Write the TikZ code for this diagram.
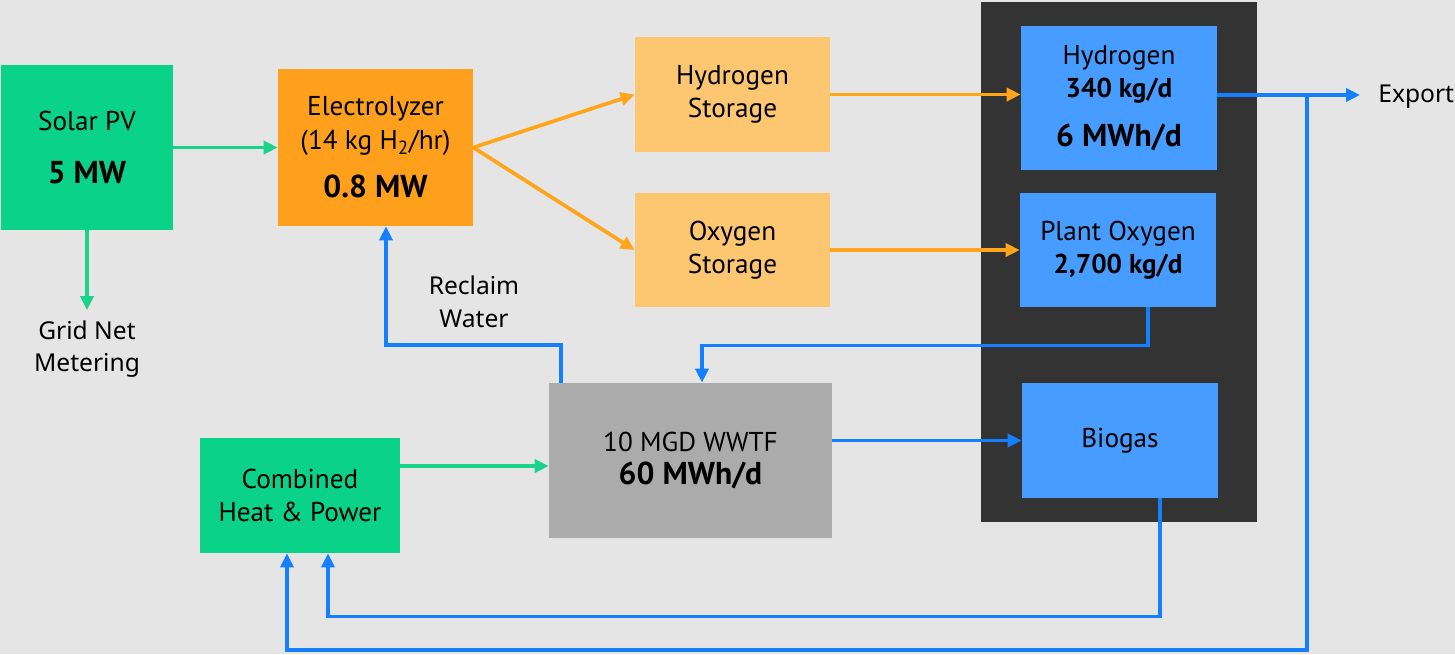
\documentclass[tikz,border=0pt]{standalone}
\usepackage{fontspec}
\setmainfont{PT Sans}
\newfontfamily\labelfont{Noto Sans}
\usetikzlibrary{arrows.meta}
\definecolor{bgcol}{HTML}{E5E5E5}
\definecolor{panelcol}{HTML}{333333}
\definecolor{greenbox}{HTML}{0AD389}
\definecolor{greenline}{HTML}{19D38A}
\definecolor{orangebox}{HTML}{FFA01C}
\definecolor{orangeline}{HTML}{FFA51A}
\definecolor{storebox}{HTML}{FDC670}
\definecolor{bluebox}{HTML}{479DFF}
\definecolor{blueline}{HTML}{1580FF}
\definecolor{graybox}{HTML}{ABABAB}

\begin{document}
\begin{tikzpicture}[x=0.02cm,y=-0.02cm,
  box/.style={minimum width=3.9cm,minimum height=2.3cm,align=center,
    inner sep=0pt,font=\fontsize{15.5}{19}\selectfont},
  flow/.style={line width=2.1pt,-{Triangle[length=0.28cm,width=0.26cm]}},
  outlabel/.style={align=center,inner sep=0pt,font=\labelfont\fontsize{14}{18.5}\selectfont}]
\def\gap{8.5pt}
\def\bigtxt{\fontsize{18}{21}\selectfont\bfseries}

% background and output panel
\fill[bgcol] (0,0) rectangle (1455,654);
\useasboundingbox (0,0) rectangle (1455,654);
\fill[panelcol] (981,2) rectangle (1257,522);

% --- sources ---
\node[box,fill=greenbox,minimum width=3.44cm,minimum height=3.3cm] (solar) at (87,147.5)
    {Solar PV\\[11pt]{\bigtxt 5 MW}};
\node[box,fill=orangebox,minimum height=3.14cm] (elec) at (375.5,147.5)
    {Electrolyzer\\(14 kg H\textsubscript{2}/hr)\\[\gap]{\bigtxt 0.8 MW}};
\node[box,fill=greenbox,minimum width=4cm] (chp) at (300,495.5)
    {Combined\\Heat \& Power};

% --- storage ---
\node[box,fill=storebox] (h2st) at (732.5,94.5) {Hydrogen\\Storage};
\node[box,fill=storebox,minimum height=2.28cm] (o2st) at (732.5,250) {Oxygen\\Storage};

% --- plant ---
\node[box,fill=graybox,minimum width=5.66cm,minimum height=3.1cm] (wwtf) at (690.5,460.5)
    {10 MGD WWTF\\{\bigtxt 60 MWh/d}};

% --- products ---
\node[box,fill=bluebox,minimum width=3.92cm,minimum height=2.88cm] (h2) at (1119,98)
    {Hydrogen\\\textbf{340 kg/d}\\[\gap]{\bigtxt 6 MWh/d}};
\node[box,fill=bluebox,minimum width=3.92cm,minimum height=2.28cm] (o2) at (1118,250)
    {Plant Oxygen\\\textbf{2,700 kg/d}};
\node[box,fill=bluebox,minimum width=3.92cm] (biogas) at (1120,440.5) {Biogas};

% --- free labels ---
\node[outlabel,inner ysep=0.2cm] (grid) at (87,349) {Grid Net\\Metering};
\node[outlabel] (reclaim) at (474,302) {Reclaim\\Water};
\node[outlabel,anchor=west,inner xsep=0.36cm] (export) at (1360,97) {Export};

% green flows
\draw[flow,greenline] (solar.east) -- (elec.west);
\draw[flow,greenline] (solar.south) -- (grid.north);
\coordinate (chpout) at ([yshift=0.59cm]chp.east);
\draw[flow,greenline] (chpout) -- (chpout -| wwtf.west);

% orange flows
\draw[flow,orangeline] (elec.east) -- (h2st.west);
\draw[flow,orangeline] (elec.east) -- (o2st.west);
\draw[flow,orangeline] (h2st.east) -- (h2st.east -| h2.west);
\draw[flow,orangeline] (o2st.east) -- (o2st.east -| o2.west);

% blue flows
\coordinate (tap) at (1307,95);
\draw[flow,blueline] (h2.east |- tap) -- (tap -| export.west);
\draw[flow,blueline] (tap) -- ++(0,555) -| ([xshift=-0.26cm]chp.south);
\draw[flow,blueline] ([xshift=0.8cm]biogas.south) -- ++(0,118) -| ([xshift=0.56cm]chp.south);
\draw[flow,blueline] ([xshift=0.6cm]o2.south) -- ++(0,38) -| ([xshift=0.23cm]wwtf.north);
\draw[flow,blueline] ([xshift=-2.59cm]wwtf.north) -- ++(0,-38) -| ([xshift=0.21cm]elec.south);
\draw[flow,blueline] (wwtf.east |- biogas.west) -- (biogas.west);
\end{tikzpicture}
\end{document}
